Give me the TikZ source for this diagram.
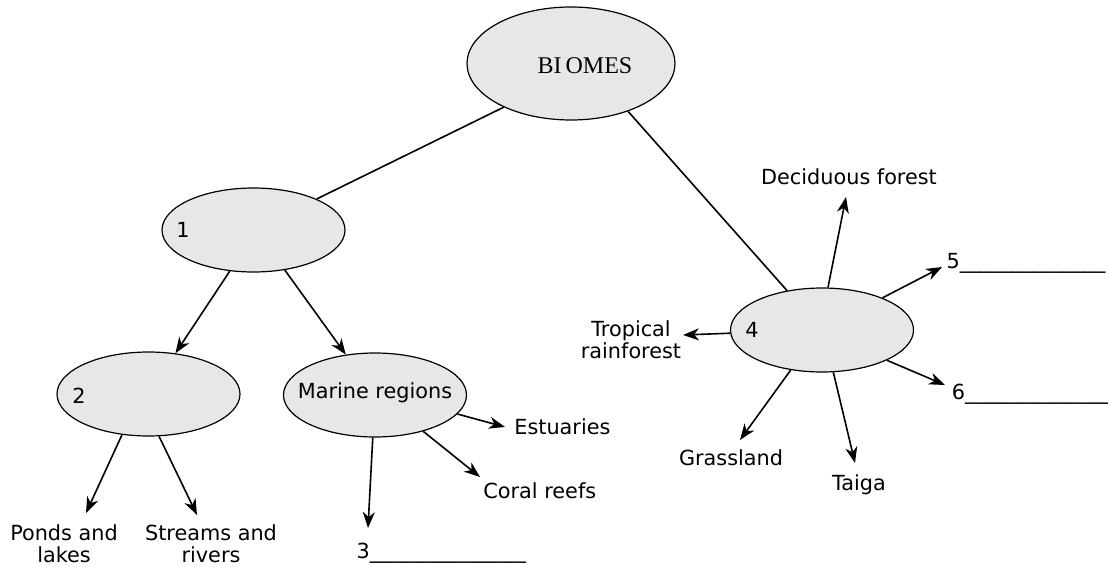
\documentclass[tikz,border=0pt]{standalone}
\usepackage{fontspec}
\setmainfont{DejaVu Sans}
\newfontfamily\titlefont{Liberation Serif}
\usetikzlibrary{shapes.geometric,positioning,arrows.meta}

\definecolor{biomegray}{HTML}{E6E7E8}
\tikzset{
  biome/.style={ellipse, draw, line width=0.6pt, fill=biomegray, inner sep=0pt,
    minimum width=91.5pt, minimum height=42pt},
  txt/.style={inner sep=1pt, font=\fontsize{10.4}{11}\selectfont, align=center},
  link/.style={line width=0.8pt},
  arr/.style={line width=0.8pt, -{Stealth[length=8pt,width=6pt,inset=2.5pt]}},
}

\begin{document}
\begin{tikzpicture}[on grid]
\useasboundingbox (0,0) rectangle (554pt,-283.5pt);

  % Define nodes
\node[biome, minimum width=104pt, minimum height=56.5pt] (bio) at (285.5pt,-31.75pt) {};
\node[biome, below left=83.25pt and 158.75pt of bio]   (e1) {};
\node[biome, below right=133.25pt and 125.5pt of bio]  (e4) {};
\node[biome, below left=82pt and 52.5pt of e1]         (e2) {};
\node[biome, below right=82.5pt and 60.75pt of e1]     (mar) {};

\node[below right=1.25pt and 7pt of bio, font=\titlefont\fontsize{12}{14}\selectfont] (tbio) {BI\,OMES};
\node[txt, left=35.25pt of e1]                (n1) {1};
\node[txt, below left=1pt and 34.75pt of e2]  (n2) {2};
\node[txt, left=35pt of e4]                   (n4) {4};
\node[txt, above=1pt of mar]                  (tmar) {Marine regions};

\node[txt, below left=75pt and 42.25pt of e2]    (ponds) {Ponds and\\lakes};
\node[txt, below right=75pt and 31.25pt of e2]   (streams) {Streams and\\rivers};
\node[txt, below left=78.9pt and 10.35pt of mar, anchor=west] (three) {3\_\_\_\_\_\_\_\_\_\_\_\_\_\_\_};
\node[txt, below right=16pt and 68.5pt of mar, anchor=west]   (est) {Estuaries};
\node[txt, below right=48pt and 53pt of mar, anchor=west]     (coral) {Coral reefs};
\node[txt, above right=76.5pt and 13.5pt of e4]  (dec) {Deciduous forest};
\node[txt, above right=33.1pt and 61.15pt of e4, anchor=west] (five) {5\_\_\_\_\_\_\_\_\_\_\_\_\_\_};
\node[txt, below right=31.9pt and 63.75pt of e4, anchor=west] (six) {6\_\_\_\_\_\_\_\_\_\_\_\_\_\_};
\node[txt, below left=5pt and 95.5pt of e4]      (trop) {Tropical\\rainforest};
\node[txt, below left=64pt and 45.5pt of e4]     (grass) {Grassland};
\node[txt, below right=77.25pt and 18.5pt of e4] (taiga) {Taiga};

  % Connect the nodes
\draw[link] (bio.213) -- (e1);
\draw[link] (bio.-40) -- (e4);
\draw[arr] (e1.240) -- (e2);
\draw[arr] (e1.-52) -- (mar);
\draw[arr] (e2.237) -- ([shift={(11pt,15.5pt)}]ponds.center);
\draw[arr] (e2.-76) -- ([shift={(-7pt,14.5pt)}]streams.center);
\draw[arr] (mar.-93) -- ([shift={(6.85pt,12.4pt)}]three.west);
\draw[arr] (mar.-13) -- ([shift={(-3.5pt,0pt)}]est.west);
\draw[arr] (mar.-37.5) -- ([shift={(-0.5pt,7pt)}]coral.west);
\draw[arr] (e4.82) -- ([shift={(-1.5pt,-10pt)}]dec.center);
\draw[arr] (e4.28) -- ([shift={(-1.1pt,-1.6pt)}]five.west);
\draw[arr] (e4.-25) -- ([shift={(-2.25pt,4.4pt)}]six.west);
\draw[arr] (e4.182) -- ([shift={(26pt,2.5pt)}]trop.center);
\draw[arr] (e4.232) -- ([shift={(4.5pt,9pt)}]grass.center);
\draw[arr] (e4.-75) -- ([shift={(-2pt,10.75pt)}]taiga.center);

\end{tikzpicture}
\end{document}
